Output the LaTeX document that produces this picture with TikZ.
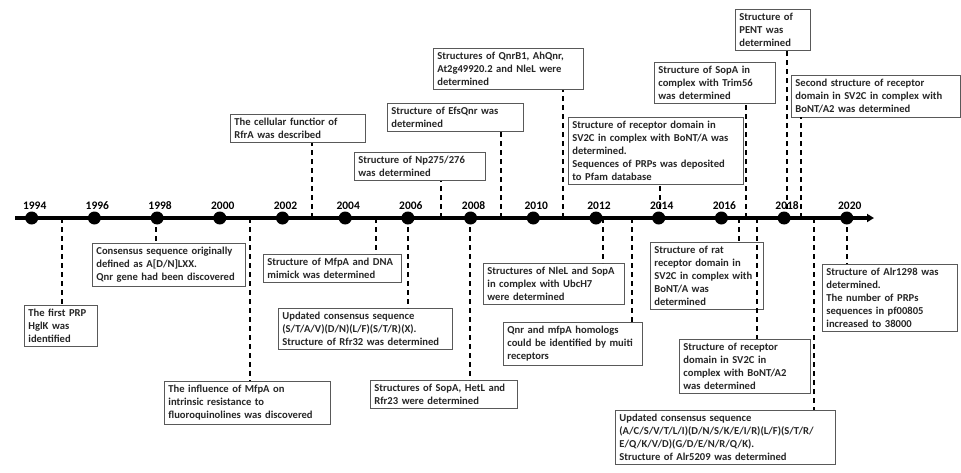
\documentclass[tikz,border=0pt]{standalone}
\usepackage{fontspec}
\setmainfont{Carlito}
\usetikzlibrary{arrows.meta}

\begin{document}
\begin{tikzpicture}[x=1pt,y=-1pt]
\useasboundingbox (0,0) rectangle (961,472);
\tikzstyle{event}=[draw=black!65, line width=0.8pt, fill=white,
                   anchor=north west, align=left, inner xsep=4pt,
                   inner ysep=3.8pt, text=black!85,
                   font=\bfseries\fontsize{10.6}{13}\selectfont]
\tikzstyle{link}=[line width=1.4pt, dash pattern=on 5pt off 4pt]
% events above the axis
\node[event, text width=127pt] (rfra) at (230,114){The cellular functior of\\RfrA was described};
\node[event, text width=123pt] (np) at (354,152){Structure of Np275/276\\was determined};
\node[event, text width=128pt] (efs) at (387,103){Structure of EfsQnr was\\determined};
\node[event, text width=142pt] (qnrb) at (433,48){Structures of QnrB1, AhQnr,\\At2g49920.2 and NleL were\\determined};
\node[event, text width=167pt] (pfam) at (568,117){Structure of receptor domain in\\SV2C in complex with BoNT/A was\\determined.\\Sequences of PRPs was deposited\\to Pfam database};
\node[event, text width=113pt] (trim) at (654,62){Structure of SopA in\\complex with Trim56\\was determined};
\node[event, text width=67pt] (pent) at (735,9){Structure of\\PENT was\\determined};
\node[event, text width=161pt] (second) at (791,75){Second structure of receptor\\domain in SV2C in complex with\\BoNT/A2 was determined};
% events below the axis
\node[event, text width=65pt] (hglk) at (24,305){The first PRP\\HglK was\\identified};
\node[event, text width=145pt] (cons) at (92,243){Consensus sequence originally\\defined as A[D/N]LXX.\\Qnr gene had been discovered};
\node[event, text width=158pt] (mfpa) at (164,381){The influence of MfpA on\\intrinsic resistance to\\fluoroquinolines was discovered};
\node[event, text width=130pt] (mimic) at (263,254){Structure of MfpA and DNA\\mimick was determined};
\node[event, text width=166pt] (rfr) at (278,308){Updated consensus sequence\\(S/T/A/V)(D/N)(L/F)(S/T/R)(X).\\Structure of Rfr32 was determined};
\node[event, text width=139pt] (hetl) at (370,380){Structures of SopA, HetL and\\Rfr23 were determined};
\node[event, text width=133pt] (ubch) at (483,263){Structures of NleL and SopA\\in complex with UbcH7\\were determined};
\node[event, text width=131pt] (homo) at (503,322){Qnr and mfpA homologs\\could be identified by muiti\\receptors};
\node[event, text width=105pt] (rat) at (650,242){Structure of rat\\receptor domain in\\SV2C in complex with\\BoNT/A was\\determined};
\node[event, text width=123pt] (bonta) at (679,339){Structure of receptor\\domain in SV2C in\\complex with BoNT/A2\\was determined};
\node[event, text width=212pt] (alr) at (615,410){Updated consensus sequence\\(A/C/S/V/T/L/I)(D/N/S/K/E/I/R)(L/F)(S/T/R/\\E/Q/K/V/D)(G/D/E/N/R/Q/K).\\Structure of Alr5209 was determined};
\node[event, text width=127pt] (pf) at (822,264){Structure of Alr1298 was\\determined.\\The number of PRPs\\sequences in pf00805\\increased to 38000};
% points on the axis
\coordinate (t95) at (62,218);
\coordinate (t98) at (156,218);
\coordinate (t01) at (250,218);
\coordinate (t03) at (312,218);
\coordinate (t05) at (376,218);
\coordinate (t06) at (408,218);
\coordinate (t07) at (441,218);
\coordinate (t08) at (470,218);
\coordinate (t09) at (501,218);
\coordinate (t11) at (563,218);
\coordinate (t12) at (603,218);
\coordinate (t13) at (632,218);
\coordinate (t14) at (660,218);
\coordinate (t16) at (739,218);
\coordinate (t16b) at (746,218);
\coordinate (t17) at (757,218);
\coordinate (t18) at (787,218);
\coordinate (t18b) at (801,218);
\coordinate (t19) at (814,218);
\coordinate (t20) at (847,218);
\foreach \t/\e in {t03/rfra,t07/np,t09/efs,t11/qnrb,t14/pfam,t16b/trim,t18/pent,t18b/second}{
	\draw[link] (\t) -- (\t |- \e.south);
	}
\foreach \t/\e in {t95/hglk,t98/cons,t01/mfpa,t05/mimic,t06/rfr,t08/hetl,t12/ubch,t13/homo,t16/rat,t17/bonta,t19/alr,t20/pf}{
	\draw[link] (\t) -- (\t |- \e.north);
	}
% time axis
\coordinate (start) at (15,218);
\coordinate (end) at (874,218);
\draw[line width=3.5pt, -{Triangle[length=7pt,width=8pt]}] (start) -- (end);
\foreach \y [count=\i from 0] in {1994,1996,...,2020}{
	\node[circle, fill=black, inner sep=0pt, minimum size=13pt] (y\y) at (31.7+62.7*\i,218){};
	\node[font=\bfseries\fontsize{11.5}{12}\selectfont] (l\y) at (34.7+62.7*\i,206){\y};
	}
\end{tikzpicture}
\end{document}
